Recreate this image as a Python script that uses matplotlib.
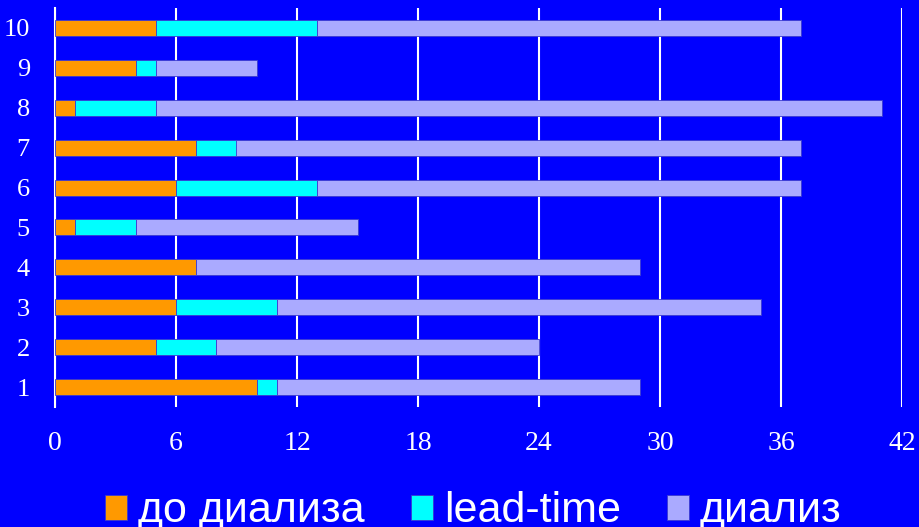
import numpy as np
import matplotlib.pyplot as plt

patients = ['1', '2', '3', '4', '5', '6', '7', '8', '9', '10']
pre_dialysis = [10, 5, 6, 7, 1, 6, 7, 1, 4, 5]
lead_time = [1, 3, 5, 0, 3, 7, 2, 4, 1, 8]
dialysis = [18, 16, 24, 22, 11, 24, 28, 36, 5, 24]
xticks = [0, 6, 12, 18, 24, 30, 36, 42]

bg = '#0000ff'
colors = ['#ff9900', '#00ffff', '#aaaaff']
labels = ['до диализа', 'lead-time', 'диализ']

fig = plt.figure(figsize=(9.19, 5.27), dpi=100, facecolor=bg)
ax = fig.add_axes([55 / 919, 120 / 527, 847 / 919, 399 / 527])
ax.set_facecolor(bg)

y = np.arange(1, len(patients) + 1)
left = np.zeros(len(patients))
for vals, c, lab in zip([pre_dialysis, lead_time, dialysis], colors, labels):
    ax.barh(y, vals, left=left, height=0.4, color=c, edgecolor='#3a3ad0',
            linewidth=0.6, label=lab, zorder=3)
    left += np.array(vals)

ax.set_xlim(0, 42)
ax.set_ylim(0.5, 10.5)
ax.set_xticks(xticks)
ax.set_yticks(y)
ax.set_yticklabels(patients)
ax.grid(axis='x', color='white', linewidth=1.5, zorder=0)
for s in ['top', 'right', 'bottom']:
    ax.spines[s].set_visible(False)
ax.spines['left'].set_color('white')
ax.spines['left'].set_linewidth(1.5)
ax.tick_params(length=0, colors='white')
ax.tick_params(axis='x', labelsize=20, pad=17)
ax.tick_params(axis='y', labelsize=19, pad=18)
for t in ax.get_xticklabels() + ax.get_yticklabels():
    t.set_fontfamily('Liberation Serif')

leg = fig.legend(loc='lower center', bbox_to_anchor=(0.515, -0.082), ncol=3,
                 frameon=False, handlelength=0.52, handleheight=0.52,
                 handletextpad=0.25, columnspacing=1.07,
                 prop={'family': 'Liberation Sans', 'size': 31})
for t in leg.get_texts():
    t.set_color('white')

fig.savefig('out.png', dpi=100, facecolor=bg)
